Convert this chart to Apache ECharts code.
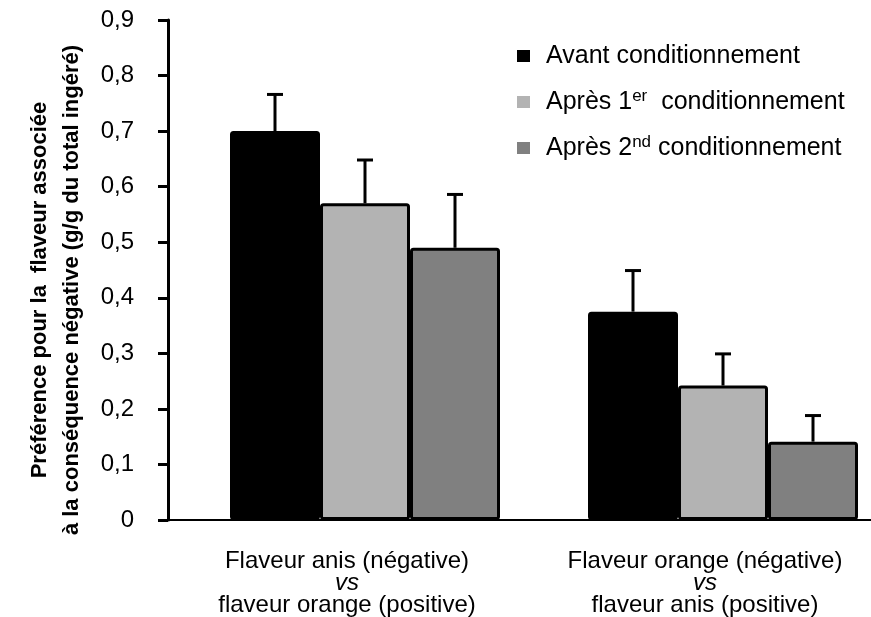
<!DOCTYPE html>
<html>
<head>
<meta charset="utf-8">
<script src="https://cdn.jsdelivr.net/npm/echarts@6/dist/echarts.min.js"></script>
<style>
  html, body { margin: 0; padding: 0; background: #fff; }
  #chart { width: 871px; height: 617px; }
</style>
</head>
<body>
<div id="chart"></div>
<script>
  // catégories (axe x)
  const categoryTop = ['Flaveur anis (négative)', 'Flaveur orange (négative)']
  const categoryBottom = ['flaveur orange (positive)', 'flaveur anis (positive)']
  const categories = categoryTop.map((t, i) => t + '\nvs\n' + categoryBottom[i])

  // séries : moyennes et erreurs (vers le haut)
  const seriesNames = ['Avant conditionnement', 'Après 1er  conditionnement', 'Après 2nd conditionnement']
  const avant = [0.70, 0.375]
  const avantErr = [0.066, 0.074]
  const apres1 = [0.57, 0.242]
  const apres1Err = [0.078, 0.057]
  const apres2 = [0.49, 0.141]
  const apres2Err = [0.096, 0.047]

  const yTicks = ['0', '0,1', '0,2', '0,3', '0,4', '0,5', '0,6', '0,7', '0,8', '0,9']

  const colors = ['#000000', '#b3b3b3', '#808080']
  const values = [avant, apres1, apres2]
  const errors = [avantErr, apres1Err, apres2Err]

  const BAR_W = 90
  const SPACER_W = 36
  const font = 'Liberation Sans, Arial, sans-serif'

  const chart = echarts.init(document.getElementById('chart'))

  // décalage (px) du centre de chaque barre par rapport au centre de la catégorie
  function barOffset(i) {
    const total = SPACER_W + BAR_W * values.length
    return -total / 2 + SPACER_W + BAR_W * i + BAR_W / 2
  }

  const barSeries = values.map((vals, i) => ({
    name: seriesNames[i],
    type: 'bar',
    data: vals,
    barWidth: BAR_W,
    barGap: '0%',
    itemStyle: {
      color: colors[i],
      borderColor: '#000',
      borderWidth: 3,
      borderRadius: 2
    },
    z: 2
  }))

  const errSeries = values.map((vals, i) => ({
    name: seriesNames[i] + ' err',
    type: 'custom',
    data: vals.map((v, k) => [k, v, errors[i][k]]),
    z: 3,
    renderItem(params, api) {
      const base = api.coord([api.value(0), api.value(1)])
      const top = api.coord([api.value(0), api.value(1) + api.value(2)])
      const x = base[0] + barOffset(i)
      const style = { stroke: '#000', lineWidth: 3 }
      return {
        type: 'group',
        children: [
          { type: 'line', shape: { x1: x, y1: base[1], x2: x, y2: top[1] }, style },
          { type: 'line', shape: { x1: x - 8, y1: top[1], x2: x + 8, y2: top[1] }, style }
        ]
      }
    }
  }))

  chart.setOption({
    animation: false,
    grid: {
      left: 168,
      width: 716,
      top: 20,
      bottom: 97,
      outerBoundsMode: 'none',
      containLabel: false
    },
    legend: {
      data: seriesNames,
      orient: 'vertical',
      left: 512,
      top: 37,
      itemWidth: 13,
      itemHeight: 12,
      itemGap: 18,
      icon: 'rect',
      itemStyle: { borderWidth: 0 },
      formatter: name => name.replace(/(\d)(er|nd)/, '$1{sup|$2}'),
      textStyle: {
        fontFamily: font,
        fontSize: 25,
        color: '#000',
        lineHeight: 28,
        padding: [0, 0, 0, 11],
        rich: {
          sup: { fontFamily: font, fontSize: 17, lineHeight: 14, verticalAlign: 'top', color: '#000' }
        }
      }
    },
    xAxis: {
      type: 'category',
      data: categories,
      axisLine: { lineStyle: { color: '#000', width: 2 } },
      axisTick: { show: false },
      axisLabel: {
        margin: 30,
        interval: 0,
        fontFamily: font,
        fontSize: 24,
        color: '#000',
        lineHeight: 22,
        formatter: v => v.replace('\nvs\n', '\n{i|vs}\n'),
        rich: {
          i: { fontFamily: font, fontSize: 24, fontStyle: 'italic', color: '#000', lineHeight: 22 }
        }
      }
    },
    yAxis: {
      type: 'value',
      min: 0,
      max: 0.9,
      interval: 0.1,
      splitLine: { show: false },
      axisLine: { show: true, lineStyle: { color: '#000', width: 3 } },
      axisTick: { show: true, length: 10, lineStyle: { color: '#000', width: 3 } },
      axisLabel: {
        margin: 34,
        fontFamily: font,
        fontSize: 24,
        color: '#000',
        formatter: (v) => yTicks[Math.round(v * 10)]
      },
      name: 'Préférence pour la  flaveur associée\nà la conséquence négative (g/g du total ingéré)',
      nameLocation: 'middle',
      nameRotate: 90,
      nameGap: 80,
      nameTextStyle: {
        fontFamily: font,
        fontSize: 22,
        fontWeight: 'bold',
        color: '#000',
        lineHeight: 32,
        padding: [0, 40, 0, 0]
      }
    },
    series: [
      {
        name: 'spacer',
        type: 'bar',
        data: [0, 0],
        barWidth: SPACER_W,
        barGap: '0%',
        itemStyle: { color: 'transparent' },
        silent: true
      },
      ...barSeries,
      ...errSeries
    ]
  })
</script>
</body>
</html>
